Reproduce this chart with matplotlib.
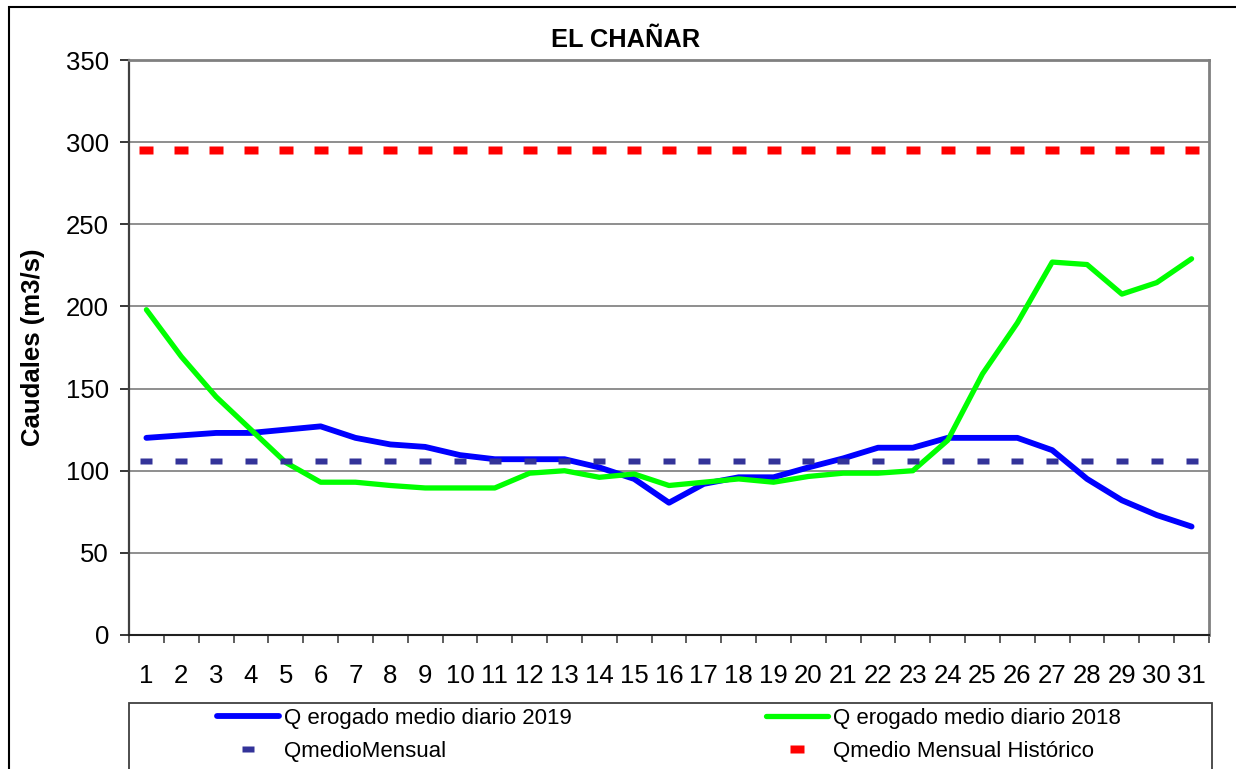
import matplotlib
matplotlib.use("Agg")
import matplotlib.pyplot as plt
from matplotlib.patches import Rectangle
from matplotlib.path import Path
import numpy as np

plt.rcParams['font.family'] = ['Liberation Sans', 'DejaVu Sans']

# ---------------- data ----------------
days = list(range(1, 32))
q_2019 = [120, 121.5, 123, 123, 125, 127, 120, 116, 114.5, 109.5, 107, 107, 107,
          102, 95, 80.5, 92, 96, 96, 102, 107.5, 114, 114, 120, 120, 120, 112.5,
          95, 82, 73, 66]
q_2018 = [198, 169.5, 145, 125, 105, 93, 93, 91, 89.5, 89.5, 89.5, 98.5, 100,
          96, 98, 91, 93, 95, 93, 96.5, 98.5, 98.5, 100, 118.5, 159, 190, 227,
          225.5, 207.5, 214.5, 229]
q_medio_mensual = [106] * 31
q_medio_historico = [295] * 31

title = "EL CHAÑAR"
ylabel = "Caudales (m3/s)"
labels = ["Q erogado medio diario 2019", "QmedioMensual",
          "Q erogado medio diario 2018", "Qmedio Mensual Histórico"]
yticks = [0, 50, 100, 150, 200, 250, 300, 350]

# ---------------- figure ----------------
W, H = 1236, 769
fig = plt.figure(figsize=(W / 100, H / 100), dpi=100)
ax = fig.add_axes([129 / W, 1 - 635 / H, (1209 - 129) / W, (635 - 60) / H])


def rect_marker(w, h):
    verts = [(-w / 2, -h / 2), (w / 2, -h / 2), (w / 2, h / 2), (-w / 2, h / 2), (-w / 2, -h / 2)]
    codes = [Path.MOVETO, Path.LINETO, Path.LINETO, Path.LINETO, Path.CLOSEPOLY]
    return Path(verts, codes)


px = 0.72  # points per pixel at 100 dpi

l19, = ax.plot(days, q_2019, color='#0000FF', lw=4.2, solid_capstyle='round',
               solid_joinstyle='round', zorder=3)
l18, = ax.plot(days, q_2018, color='#00FF00', lw=3.8, solid_capstyle='round',
               solid_joinstyle='round', zorder=4)
lmen, = ax.plot(days, q_medio_mensual, ls='none', marker=rect_marker(12, 6),
                markersize=12 * px, color='#333399', mec='none', zorder=5)
lhis, = ax.plot(days, q_medio_historico, ls='none', marker=rect_marker(14, 8.3),
                markersize=14 * px, color='#FF0000', mec='none', zorder=5)

ax.set_xlim(0.5, 31.5)
ax.set_ylim(0, 350)
ax.set_yticks(yticks)
ax.set_xticks(days)
ax.set_xticks(np.arange(0.5, 32, 1), minor=True)
ax.yaxis.grid(True, color='#707070', lw=1.1)
ax.set_axisbelow(True)

ax.tick_params(axis='y', direction='out', length=9 * px, width=1.1, color='black',
               labelsize=18.5, pad=8)
ax.tick_params(axis='x', which='major', length=0, labelsize=18.5, pad=21)
ax.tick_params(axis='x', which='minor', direction='out', length=8 * px, width=1.1,
               color='#333333')

ax.spines['left'].set_color('#404040')
ax.spines['left'].set_linewidth(1.6)
ax.spines['bottom'].set_color('#202020')
ax.spines['bottom'].set_linewidth(1.5)
ax.spines['right'].set_color('#808080')
ax.spines['right'].set_linewidth(2)
ax.spines['top'].set_color('#808080')
ax.spines['top'].set_linewidth(2)

# title and y label
fig.text(626 / W, 1 - 47 / H, title, ha='center', va='baseline', fontsize=18.3,
         fontweight='bold')
fig.text(33 / W, 1 - 347.5 / H, ylabel, rotation=90, ha='center', va='center',
         fontsize=18.5, fontweight='bold')

# outer chart border
fig.patches.append(Rectangle((9 / W, -0.1), 1.2, 1 - 7 / H + 0.1, transform=fig.transFigure,
                             fill=False, ec='black', lw=1.5, clip_on=False))
# legend frame
fig.patches.append(Rectangle((129 / W, -0.1), (1212 - 129) / W, 1 - 703 / H + 0.1,
                             transform=fig.transFigure, fill=False, ec='#404040', lw=1.3,
                             clip_on=False))

fs = 16
fpx = fs / px
common = dict(loc='upper left', frameon=False, fontsize=fs, borderpad=0,
              borderaxespad=0, handlelength=62 / fpx, handletextpad=5 / fpx,
              labelspacing=0.55, numpoints=1)
leg1 = fig.legend([l19, lmen], [labels[0], labels[1]],
                  bbox_to_anchor=(217 / W, 1 - 708 / H), **common)
leg2 = fig.legend([l18, lhis], [labels[2], labels[3]],
                  bbox_to_anchor=(766 / W, 1 - 708 / H), **common)

fig.savefig("out.png", dpi=100)
